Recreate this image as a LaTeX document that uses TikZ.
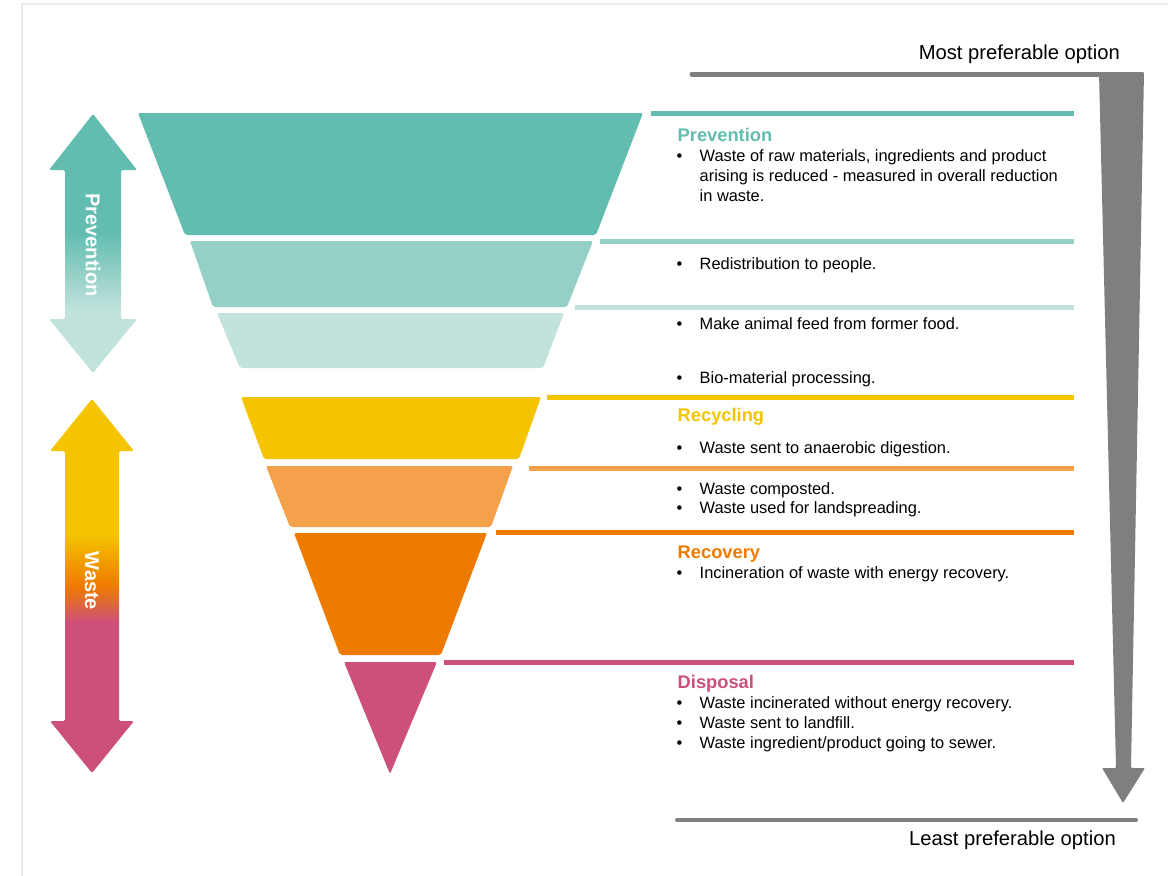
\documentclass[tikz,border=0pt]{standalone}
\usepackage{fontspec}
\setmainfont{Liberation Sans}

\definecolor{prevA}{HTML}{62BDB0}
\definecolor{prevB}{HTML}{95D0C6}
\definecolor{prevC}{HTML}{C2E2DC}
\definecolor{recyA}{HTML}{F4C400}
\definecolor{recyB}{HTML}{F5A04A}
\definecolor{recoC}{HTML}{EE7B00}
\definecolor{dispD}{HTML}{CC4F7C}
\definecolor{optgray}{HTML}{7F7F7F}
\definecolor{framegray}{HTML}{EBEBEB}

% shadings for the two side arrows (0bp = bottom)
\pgfdeclareverticalshading{prevshade}{100bp}{color(0bp)=(prevC); color(37bp)=(prevC); color(52bp)=(prevA); color(100bp)=(prevA)}
\pgfdeclareverticalshading{wasteshade}{100bp}{color(0bp)=(dispD); color(45bp)=(dispD); color(50bp)=(recoC); color(57bp)=(recyA); color(100bp)=(recyA)}

\newcommand{\itembul}{\makebox[23pt][l]{\textbullet}}

\begin{document}
\begin{tikzpicture}[x=1pt,y=-1pt,
    layer/.style={rounded corners=2pt},
    sepline/.style={line width=5pt},
    head/.style={anchor=base west, inner sep=0pt, font=\fontsize{18.3}{22}\selectfont\bfseries},
    itemtxt/.style={anchor=base west, inner sep=0pt, font=\fontsize{16.4}{20}\selectfont},
    sidelabel/.style={rotate=-90, inner sep=0pt, text=white, font=\fontsize{20}{24}\selectfont\bfseries},
    optlabel/.style={anchor=base east, inner sep=0pt, font=\fontsize{20.2}{24}\selectfont}]

    \useasboundingbox (0,0) rectangle (1168,876);

    % Frame (only top and left edges show)
    \draw[framegray, line width=2pt] (22,876) -- (22,4) -- (1168,4);

    % Funnel layers, widest at the top
    \fill[layer, prevA] (138,113) -- (643,113) -- (596,235) -- (185,235) -- cycle;
    \fill[layer, prevB] (190,241) -- (593,241) -- (567,307) -- (213,307) -- cycle;
    \fill[layer, prevC] (217,313) -- (564,313) -- (543,368) -- (240,368) -- cycle;
    \fill[layer, recyA] (241,397) -- (541,397) -- (519,459) -- (264,459) -- cycle;
    \fill[layer, recyB] (266,466) -- (513,466) -- (491,527) -- (290,527) -- cycle;
    \fill[layer, recoC] (294,533) -- (487,533) -- (441,655) -- (340,655) -- cycle;
    \fill[layer, dispD] (344,662) -- (437,662) -- (390,774) -- cycle;

    % Separator lines leading to the texts
    \draw[sepline, prevA] (651,113) -- (1074,113);
    \draw[sepline, prevB] (600,241) -- (1074,241);
    \draw[sepline, prevC] (575,307) -- (1074,307);
    \draw[sepline, recyA] (547,397) -- (1074,397);
    \draw[sepline, recyB] (529,468) -- (1074,468);
    \draw[sepline, recoC] (496,532) -- (1074,532);
    \draw[sepline, dispD] (444,662) -- (1074,662);

    % Side arrows: Prevention and Waste
    \shade[shading=prevshade, rounded corners=1.5pt]
        (93,114) -- (137,170) -- (121,170) -- (121,319) -- (137,319) -- (93,373)
        -- (49,319) -- (65,319) -- (65,170) -- (49,170) -- cycle;
    \node[sidelabel] (prevlabel) at (93,245) {Prevention};

    \shade[shading=wasteshade, rounded corners=1.5pt]
        (92,399) -- (134,451) -- (119,451) -- (119,721) -- (134,721) -- (92,773)
        -- (50,721) -- (65,721) -- (65,451) -- (50,451) -- cycle;
    \node[sidelabel] (wastelabel) at (92,581) {Waste};

    % Preference scale on the right
    \node[optlabel] (most) at (1120,59) {Most preferable option};
    \draw[optgray, line width=5pt, line cap=round] (692,74) -- (1120,74);
    \fill[optgray, rounded corners=1pt] (1099,72) -- (1144,72) -- (1131,768) -- (1145,768)
        -- (1123,803) -- (1102,768) -- (1116,768) -- cycle;
    \draw[optgray, line width=4pt, line cap=round] (677,820) -- (1136,820);
    \node[optlabel] (least) at (1116,845) {Least preferable option};

    % Prevention
    \node[head, text=prevA] (prevhead) at (677.5,141.5) {Prevention};
    \node[itemtxt] (prev1) at (676.5,161) {\itembul Waste of raw materials, ingredients and product};
    \node[itemtxt] (prev1b) at (699.5,181) {arising is reduced - measured in overall reduction};
    \node[itemtxt] (prev1c) at (699.5,201) {in waste.};
    \node[itemtxt] (prev2) at (676.5,269) {\itembul Redistribution to people.};
    \node[itemtxt] (prev3) at (676.5,329) {\itembul Make animal feed from former food.};
    \node[itemtxt] (prev4) at (676.5,383) {\itembul Bio-material processing.};

    % Recycling
    \node[head, text=recyA] (recyhead) at (677.5,421) {Recycling};
    \node[itemtxt] (recy1) at (676.5,453) {\itembul Waste sent to anaerobic digestion.};
    \node[itemtxt] (recy2) at (676.5,494) {\itembul Waste composted.};
    \node[itemtxt] (recy3) at (676.5,513.5) {\itembul Waste used for landspreading.};

    % Recovery
    \node[head, text=recoC] (recohead) at (677.5,558) {Recovery};
    \node[itemtxt] (reco1) at (676.5,578) {\itembul Incineration of waste with energy recovery.};

    % Disposal
    \node[head, text=dispD] (disphead) at (677.5,688) {Disposal};
    \node[itemtxt] (disp1) at (676.5,708.5) {\itembul Waste incinerated without energy recovery.};
    \node[itemtxt] (disp2) at (676.5,728) {\itembul Waste sent to landfill.};
    \node[itemtxt] (disp3) at (676.5,748) {\itembul Waste ingredient/product going to sewer.};

\end{tikzpicture}
\end{document}
